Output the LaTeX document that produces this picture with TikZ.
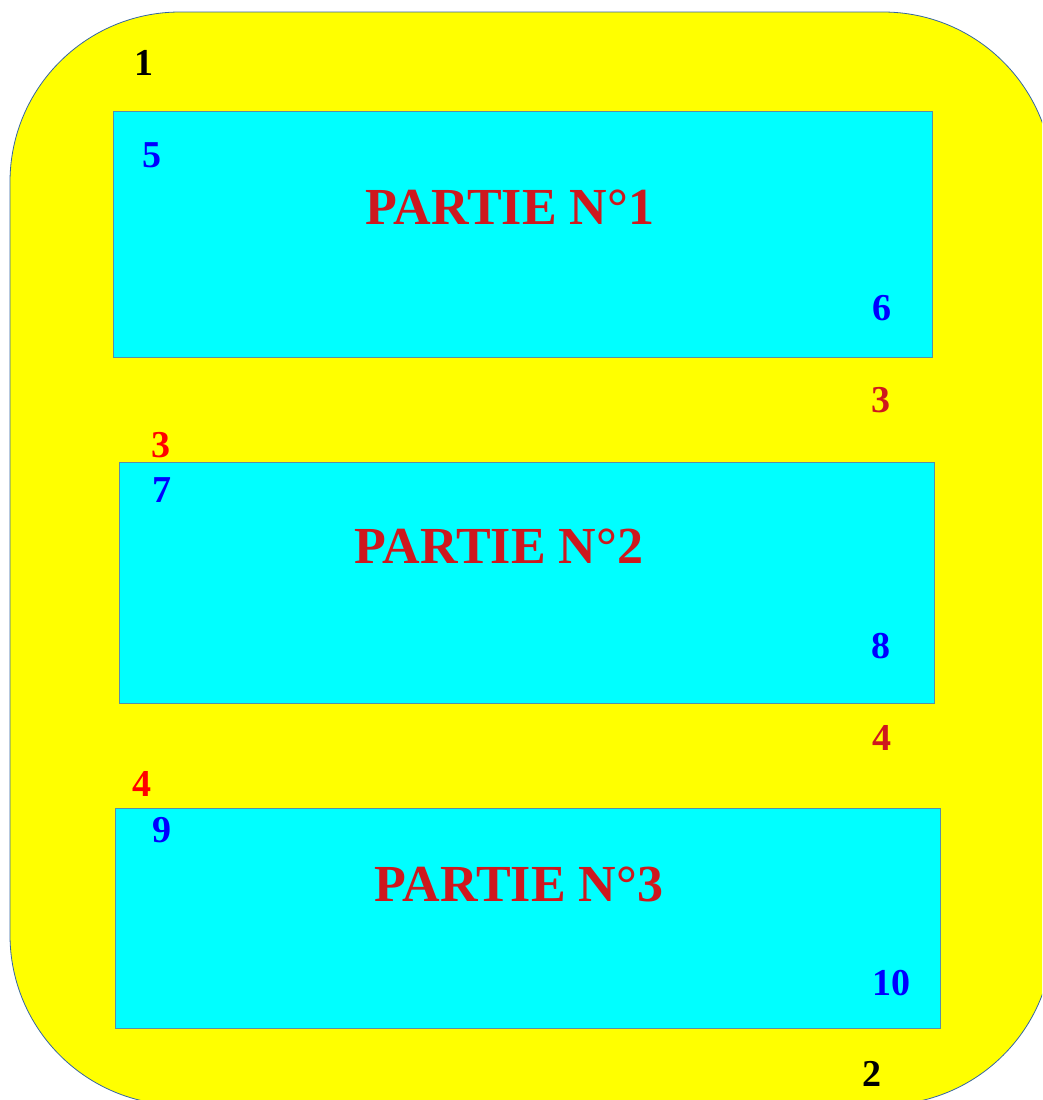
\documentclass[tikz,border=0pt]{standalone}
\usepackage{fontspec}
\setmainfont{Liberation Serif}
\definecolor{yel}{HTML}{FFFF00}
\definecolor{cya}{HTML}{00FFFF}
\definecolor{outerline}{HTML}{3465A4}
\definecolor{boxline}{HTML}{5A8FA6}
\definecolor{dred}{HTML}{CE181E}
\definecolor{bred}{HTML}{FF0000}
\definecolor{blu}{HTML}{0000FF}
\tikzset{
  partbox/.style={draw=boxline, fill=cya, line width=0.8pt, anchor=north west, inner sep=0pt},
  num/.style={font=\fontsize{38}{40}\selectfont\bfseries, anchor=base, inner sep=0pt},
  title/.style={font=\fontsize{52}{58}\selectfont\bfseries, text=dred, anchor=base, inner sep=0pt}
}
\begin{document}
\begin{tikzpicture}[x=1pt,y=-1pt]
\useasboundingbox (0,0) rectangle (1042,1100);
\clip (0,0) rectangle (1042,1100);
\draw[draw=outerline, fill=yel, line width=0.8pt, rounded corners=170pt] (10,12) rectangle (1053,1105);
% boxes
\node[partbox, minimum width=819pt, minimum height=246pt] (b1) at (113,111) {};
\node[partbox, minimum width=815pt, minimum height=241pt] (b2) at (119,462) {};
\node[partbox, minimum width=825pt, minimum height=220pt] (b3) at (115,808) {};
% titles
\node[title] (t1) at (510,224) {PARTIE N°1};
\node[title] (t2) at (499,563) {PARTIE N°2};
\node[title] (t3) at (519,901) {PARTIE N°3};
% numbers
\node[num, text=black] (n1) at (144,75) {1};
\node[num, text=blu] (n5) at (152,167) {5};
\node[num, text=blu] (n6) at (882,320) {6};
\node[num, text=dred] (n3r) at (881,412) {3};
\node[num, text=bred] (n3l) at (161,457) {3};
\node[num, text=blu] (n7) at (162,502) {7};
\node[num, text=blu] (n8) at (881,658) {8};
\node[num, text=dred] (n4r) at (882,750) {4};
\node[num, text=bred] (n4l) at (142,796) {4};
\node[num, text=blu] (n9) at (162,842) {9};
\node[num, text=blu] (n10) at (891,995) {10};
\node[num, text=black] (n2) at (872,1086) {2};
\end{tikzpicture}
\end{document}
